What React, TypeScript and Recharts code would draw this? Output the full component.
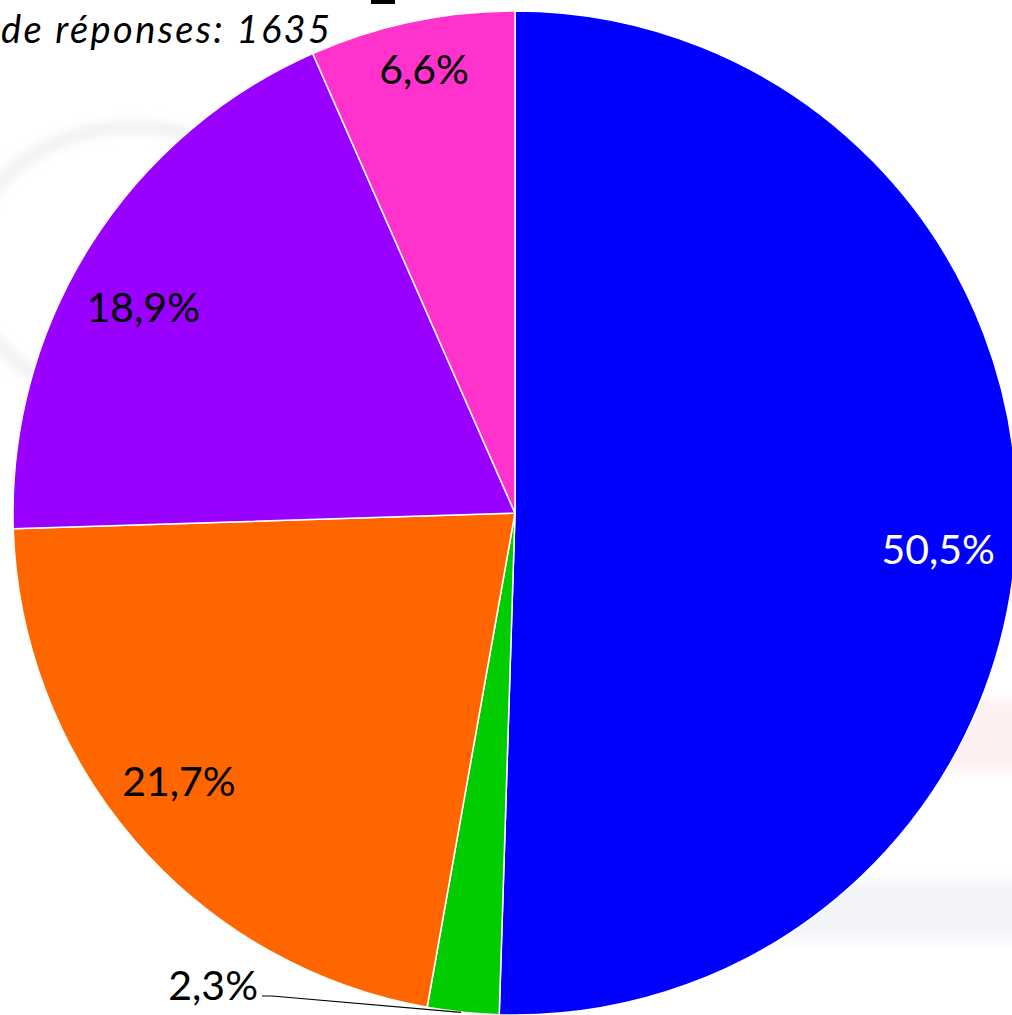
import React from 'react';
import { PieChart, Pie, Cell } from 'recharts';

// slices, clockwise from 12 o'clock
const categories = ['A', 'B', 'C', 'D', 'E'];
const shares = [50.5, 2.3, 21.7, 18.9, 6.6];
const colors = ['#0000ff', '#00cc00', '#ff6600', '#9900ff', '#ff33cc'];
const labelColors = ['#ffffff', '#000000', '#000000', '#000000', '#000000'];
const subtitle = 'de réponses: 1635';

// where each inside label sits (fraction of radius, angle nudge in degrees)
const labelRadius = [0.846, 1, 0.856, 0.846, 0.903];
const labelShift = [-4, 0, -2.3, 3.3, -0.3];

const W = 1012;
const H = 1015;
const RAD = Math.PI / 180;
const FS = 41;

const chartData = categories.map((name, i) => ({ name, value: shares[i] }));

const fmt = (v: number) => v.toFixed(1).replace('.', ',') + '%';

function renderLabel(props: any) {
  const { cx, cy, midAngle, outerRadius, value, index } = props;
  const font = { fontFamily: 'Lato, "Open Sans", sans-serif', fontSize: FS };
  if (value < 4) {
    // small slice: label outside with a leader line
    const ex = cx + outerRadius * Math.cos(-midAngle * RAD);
    const ey = cy + outerRadius * Math.sin(-midAngle * RAD);
    const lx = 262;
    const ly = 996;
    return (
      <g>
        <polyline points={`${lx},${ly} ${lx + 10},${ly} ${ex - 2},${ey}`} fill="none" stroke="#000" strokeWidth={1.2} />
        <text x={lx - 4} y={ly + 4} textAnchor="end" fill="#000" {...font}>{fmt(value)}</text>
      </g>
    );
  }
  const r = outerRadius * labelRadius[index];
  const a = (midAngle + labelShift[index]) * RAD;
  const x = cx + r * Math.cos(-a);
  const y = cy + r * Math.sin(-a);
  return (
    <text x={x} y={y + FS * 0.36} textAnchor="middle" fill={labelColors[index]} {...font}>
      {fmt(value)}
    </text>
  );
}

export default function App() {
  return (
    <div style={{ position: 'absolute', left: 0, top: 0, width: W, height: H, overflow: 'hidden', background: '#fff' }}>
      {/* faint watermark behind the pie */}
      <div style={{ position: 'absolute', left: -40, top: 120, width: 320, height: 260, borderRadius: '50%', border: '14px solid #f2f2f2', filter: 'blur(4px)' }} />
      <div style={{ position: 'absolute', left: 820, top: 700, width: 260, height: 70, background: '#fdf0f0', filter: 'blur(6px)' }} />
      <div style={{ position: 'absolute', left: 760, top: 880, width: 300, height: 60, background: '#f2f4f7', filter: 'blur(6px)' }} />
      <div style={{ position: 'absolute', left: 0, top: 0 }}>
        <PieChart width={W} height={H} margin={{ top: 0, right: 0, bottom: 0, left: 0 }}>
          <Pie
            data={chartData}
            dataKey="value"
            nameKey="name"
            cx={515}
            cy={513}
            outerRadius={502}
            startAngle={90}
            endAngle={-270}
            stroke="#ffffff"
            strokeWidth={1.5}
            label={renderLabel}
            labelLine={false}
            isAnimationActive={false}
          >
            {chartData.map((entry, index) => (
              <Cell key={`cell-${index}`} fill={colors[index]} />
            ))}
          </Pie>
        </PieChart>
      </div>
      <svg style={{ position: 'absolute', left: 0, top: 0 }} width={340} height={60}>
        <text x={1} y={43} textLength={329} lengthAdjust="spacing" fontFamily='Lato, "Open Sans", sans-serif' fontStyle="italic" fontSize={38} fill="#000">
          {subtitle}
        </text>
      </svg>
      <div style={{ position: 'absolute', left: 371, top: 0, width: 24, height: 4, background: '#000' }} />
    </div>
  );
}
